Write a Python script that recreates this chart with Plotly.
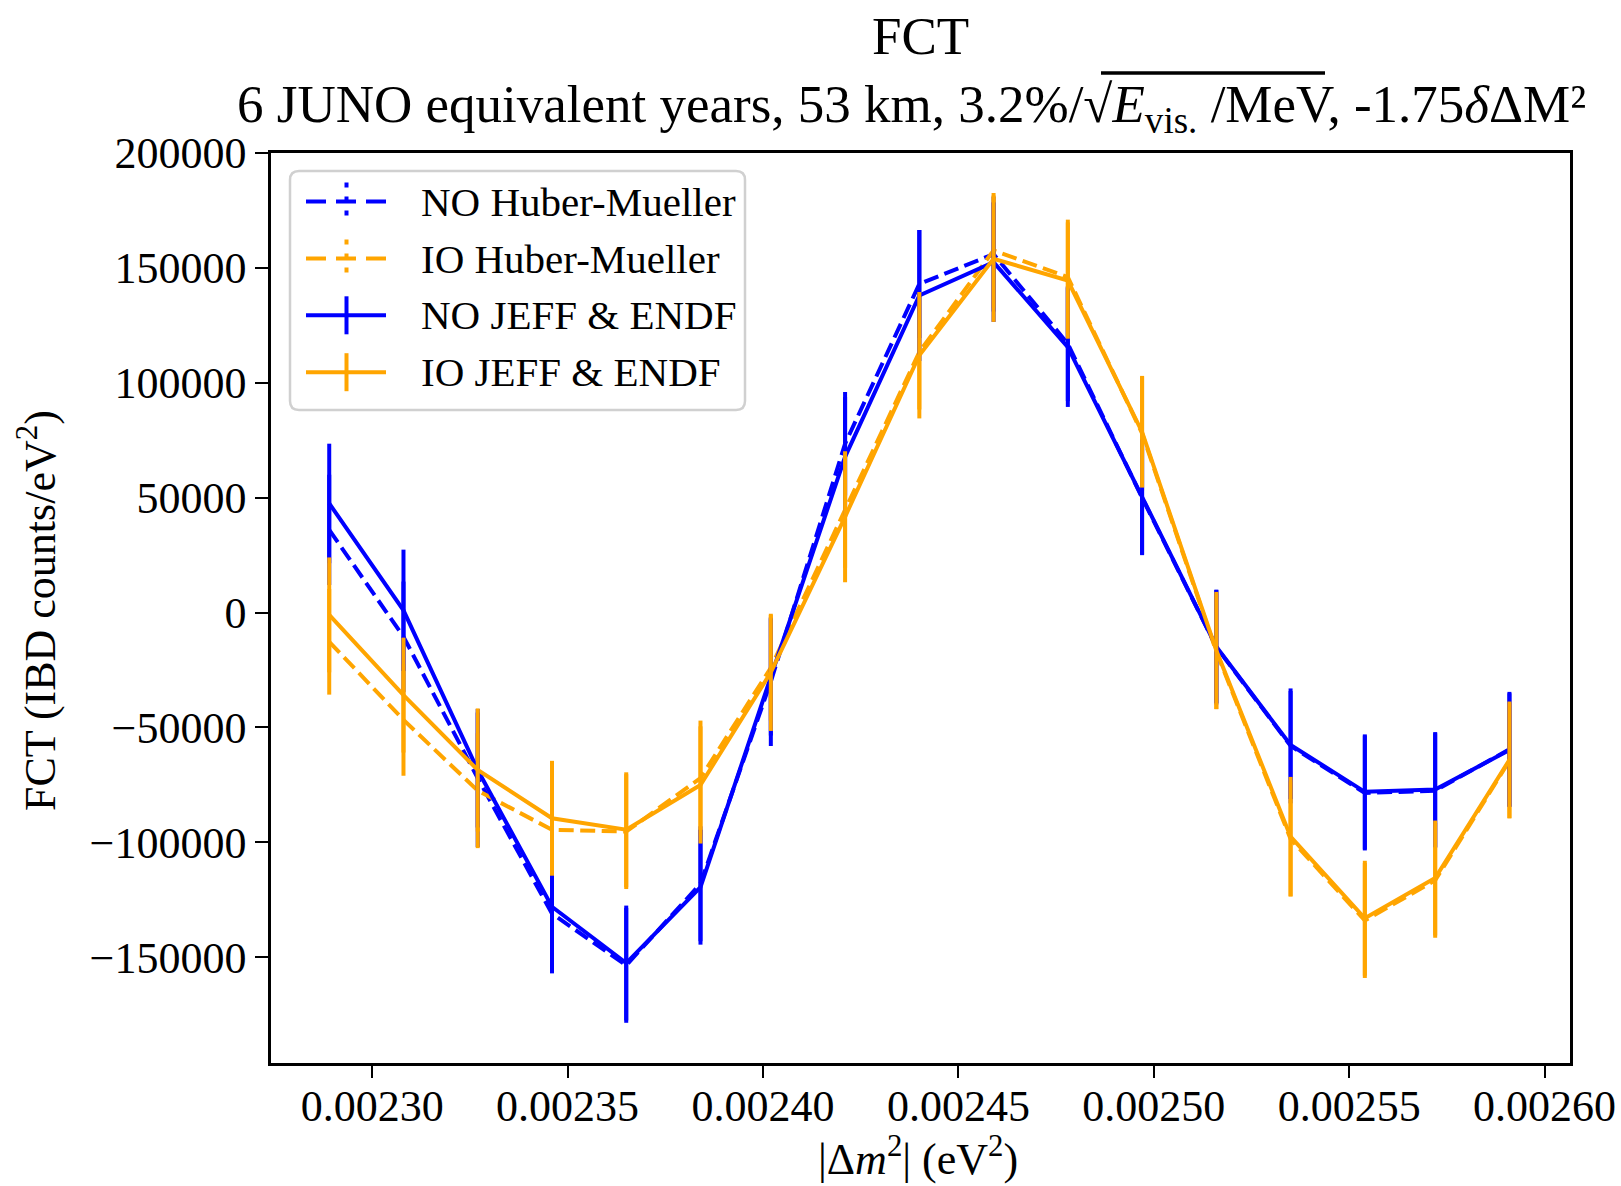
import plotly.graph_objects as go

# ---------------- data ----------------
dm2 = [0.002289, 0.002308, 0.002327, 0.002346, 0.002365, 0.002384, 0.002402,
       0.002421, 0.002440, 0.002459, 0.002478, 0.002497, 0.002516, 0.002535,
       0.002554, 0.002572, 0.002591]

no_hm = [36000, -10500, -72000, -131000, -153500, -118000, -30000, 73500, 143000,
         156000, 117000, 50000, -15000, -58000, -78500, -77500, -59500]
no_hm_err = [24000, 24000, 30000, 26000, 25000, 25000, 28000, 22500, 23500,
             25000, 25000, 25000, 25000, 25000, 25000, 25000, 25000]

io_hm = [-12700, -46700, -77500, -94500, -95300, -72000, -24000, 44500, 113400,
         157600, 146000, 78000, -17000, -98500, -134000, -116500, -64500]
io_hm_err = [23000, 24300, 25000, 25000, 25000, 25000, 23000, 25000, 25000,
             25000, 25000, 25000, 25000, 25000, 25000, 25000, 25000]

no_jeff = [47500, 1000, -68500, -128000, -152500, -119500, -28000, 67800, 138000,
           152500, 115500, 50300, -14800, -57600, -78000, -77000, -59800]
no_jeff_err = [26000, 26400, 25000, 25500, 25000, 25000, 25500, 26000, 28500,
               26000, 26000, 25000, 24600, 23500, 25000, 25000, 24700]

io_jeff = [-1000, -35900, -68500, -89500, -94500, -75000, -26000, 41700, 112000,
           154000, 144500, 78600, -16500, -97500, -133000, -115500, -64100]
io_jeff_err = [25000, 25000, 26800, 25000, 25000, 25500, 25500, 28500, 27500,
               27500, 25300, 24200, 25500, 26000, 25000, 25000, 25400]

legend_labels = ["NO Huber-Mueller", "IO Huber-Mueller", "NO JEFF &amp; ENDF", "IO JEFF &amp; ENDF"]
x_ticks = [0.00230, 0.00235, 0.00240, 0.00245, 0.00250, 0.00255, 0.00260]
y_ticks = [-150000, -100000, -50000, 0, 50000, 100000, 150000, 200000]

BLUE = "#0000ff"
ORANGE = "#ffa500"
FONT = "Liberation Serif"
DASH = "15px,6.5px"
LW = 4

# ---------------- layout geometry (pixels) ----------------
W, H = 1621, 1186
L, R, T, B = 271, 1570, 153, 1063


def px(x):
    return (x - L) / (R - L)


def py(y):
    return (B - y) / (B - T)


fig = go.Figure()

series = [
    (no_hm, no_hm_err, BLUE, DASH),
    (io_hm, io_hm_err, ORANGE, DASH),
    (no_jeff, no_jeff_err, BLUE, "solid"),
    (io_jeff, io_jeff_err, ORANGE, "solid"),
]
for (vals, errs, col, dash), name in zip(series, legend_labels):
    fig.add_trace(go.Scatter(
        x=dm2, y=vals, mode="lines", name=name, showlegend=False,
        line=dict(color=col, width=LW, dash=dash),
        error_y=dict(type="data", array=errs, visible=True, color=col,
                     thickness=LW, width=0),
    ))

fig.update_layout(
    width=W, height=H,
    margin=dict(l=L, r=W - R, t=T, b=H - B, pad=0, autoexpand=False),
    plot_bgcolor="white", paper_bgcolor="white",
    font=dict(family=FONT, size=44, color="black"),
    showlegend=False,
)
fig.update_xaxes(
    range=[0.0022741, 0.0026065], tickvals=x_ticks, tickformat=".5f",
    showgrid=False, zeroline=False, showline=True, mirror=True,
    linecolor="black", linewidth=2.5, ticks="outside", ticklen=12,
    tickwidth=2, tickcolor="black", tickfont=dict(family=FONT, size=44),
    ticklabelstandoff=-10, automargin=False,
)
fig.update_yaxes(
    range=[-196000, 200000], tickvals=y_ticks, tickformat="d",
    showgrid=False, zeroline=False, showline=True, mirror=True,
    linecolor="black", linewidth=2.5, ticks="outside", ticklen=13,
    tickwidth=2, tickcolor="black", tickfont=dict(family=FONT, size=44),
    automargin=False,
)

ann = []
shapes = []
# titles
ann.append(dict(text="FCT", x=px(920), y=py(36), xref="paper", yref="paper",
                showarrow=False, xanchor="center", yanchor="middle",
                font=dict(family=FONT, size=53)))
ann.append(dict(
    text=("6 JUNO equivalent years, 53 km, 3.2%/√"
          "<i>E</i><sub>vis.</sub> /MeV"
          ", -1.75<i>δ</i>ΔM²"),
    x=px(911), y=py(108), xref="paper", yref="paper",
    showarrow=False, xanchor="center", yanchor="middle",
    font=dict(family=FONT, size=53)))
# overline of the square root
shapes.append(dict(type="line", xref="paper", yref="paper",
                   x0=px(1101), x1=px(1325), y0=py(73), y1=py(73),
                   line=dict(color="black", width=3.5)))
# axis labels
ann.append(dict(text="FCT (IBD counts/eV<sup>2</sup>)", x=px(37), y=py(610),
                xref="paper", yref="paper", showarrow=False, textangle=-90,
                xanchor="center", yanchor="middle", font=dict(family=FONT, size=44)))
ann.append(dict(text="|Δ<i>m</i><sup>2</sup>| (eV<sup>2</sup>)", x=px(918), y=py(1156),
                xref="paper", yref="paper", showarrow=False,
                xanchor="center", yanchor="middle", font=dict(family=FONT, size=44)))

# manual legend
bx0, bx1, by0, by1, rr = 290, 745, 171, 410, 9
path = (f"M {px(bx0 + rr)} {py(by0)} L {px(bx1 - rr)} {py(by0)} "
        f"Q {px(bx1)} {py(by0)} {px(bx1)} {py(by0 + rr)} "
        f"L {px(bx1)} {py(by1 - rr)} Q {px(bx1)} {py(by1)} {px(bx1 - rr)} {py(by1)} "
        f"L {px(bx0 + rr)} {py(by1)} Q {px(bx0)} {py(by1)} {px(bx0)} {py(by1 - rr)} "
        f"L {px(bx0)} {py(by0 + rr)} Q {px(bx0)} {py(by0)} {px(bx0 + rr)} {py(by0)} Z")
shapes.append(dict(type="path", path=path, xref="paper", yref="paper",
                   line=dict(color="#d0d0d0", width=2.5),
                   fillcolor="rgba(255,255,255,0.85)", layer="above"))
rows = [201.6, 258.5, 315.3, 372.2]
for (vals, errs, col, dash), name, ry in zip(series, legend_labels, rows):
    shapes.append(dict(type="line", xref="paper", yref="paper",
                       x0=px(306), x1=px(386), y0=py(ry), y1=py(ry),
                       line=dict(color=col, width=LW,
                                 dash=("20px,10px" if dash != "solid" else "solid")),
                       layer="above"))
    shapes.append(dict(type="line", xref="paper", yref="paper",
                       x0=px(346.5), x1=px(346.5), y0=py(ry - 19), y1=py(ry + 19),
                       line=dict(color=col, width=LW,
                                 dash=("5px,9px" if dash != "solid" else "solid")),
                       layer="above"))
    ann.append(dict(text=name, x=px(419), y=py(ry), xref="paper", yref="paper",
                    showarrow=False, xanchor="left", yanchor="middle",
                    font=dict(family=FONT, size=41)))

fig.update_layout(annotations=ann, shapes=shapes)
fig.write_html("out.html")
